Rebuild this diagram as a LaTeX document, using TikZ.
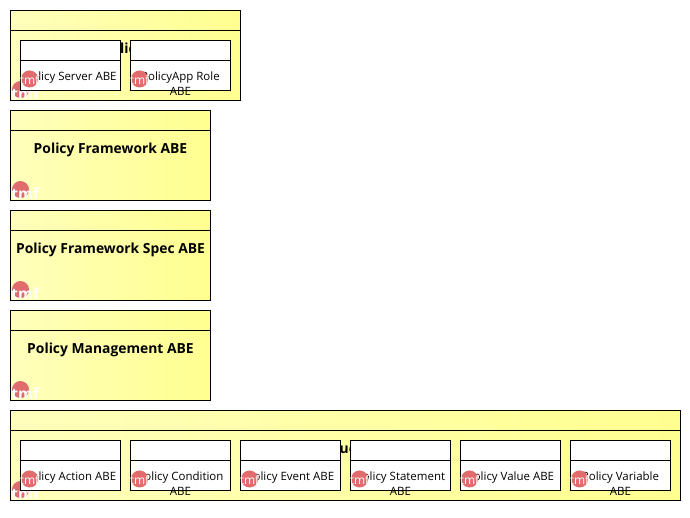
\documentclass[tikz,border=0pt]{standalone}
\usepackage{fontspec}
\setmainfont{Open Sans}
\usetikzlibrary{positioning}
\definecolor{abeleft}{HTML}{FFFFBC}
\definecolor{aberight}{HTML}{FFFF90}
\definecolor{tmfred}{HTML}{E06C6E}
\begin{document}
\begin{tikzpicture}[
    x=0.75pt,
    y=-0.75pt,
    line width=0.75pt,
    node distance=7.5pt,
    abe/.style={
		rectangle,
		draw=black,
		outer sep=0pt,
		minimum height=67.5pt,
		anchor=north west,
		left color=abeleft,
		right color=aberight
	},
	abehead/.style={
		rectangle,
		draw=black,
		outer sep=0pt,
		minimum height=15pt
	},
	abetitle/.style={
		font=\bfseries\fontsize{10.4}{12}\selectfont,
		inner sep=0pt
	},
	part/.style={
		rectangle,
		draw=black,
		fill=white,
		outer sep=0pt,
		minimum width=75pt,
		minimum height=22.5pt
	},
	parthead/.style={
		rectangle,
		draw=black,
		fill=white,
		outer sep=0pt,
		minimum width=75pt,
		minimum height=15pt
	},
	parttext/.style={
		font=\fontsize{8.6}{11.25}\selectfont,
		align=center,
		anchor=north,
		inner sep=0pt,
		yshift=-8.3pt
	},
	tmfbig/.style={
		circle,
		fill=tmfred,
		inner sep=0pt,
		minimum size=12.8pt,
		xshift=7.5pt,
		yshift=8.2pt,
		label={[text=white,font=\bfseries\fontsize{11.5}{11.5}\selectfont,inner sep=0pt,xshift=3.6pt,yshift=-3pt]center:tmf}
	},
	tmfsmall/.style={
		circle,
		fill=tmfred,
		inner sep=0pt,
		minimum size=12.8pt,
		xshift=6.8pt,
		yshift=-2.6pt,
		label={[text=white,font=\fontsize{9}{9}\selectfont,inner sep=0pt,yshift=-1pt]center:tmf}
	}
  ]
    % page size
  \useasboundingbox (0,0) rectangle (690,518);

    % the application box and its two parts
  \node [abe, minimum width=172.5pt] (application) at (10.5,10.5) {};
  \node [abehead, minimum width=172.5pt, below=0pt of application.north, anchor=north] (applicationhead) {};
  \node [abetitle, below=0pt of application.north, yshift=-23.7pt] (applicationtitle) {Policy Application ABE};
  \node [tmfbig] (applicationtmf) at (application.south west) {};

  \node [parthead, below right=22.5pt and 7.5pt of application.north west, anchor=north west] (serverhead) {};
  \node [part, below=0pt of serverhead] (server) {};
  \node [parttext] (servertext) at (server.north) {Policy Server ABE};
  \node [tmfsmall] (servertmf) at (server.west) {};

  \node [parthead, right=7.5pt of serverhead] (rolehead) {};
  \node [part, below=0pt of rolehead] (role) {};
  \node [parttext] (roletext) at (role.north) {PolicyApp Role\\ABE};
  \node [tmfsmall] (roletmf) at (role.west) {};

    % the three plain boxes
  \node [abe, minimum width=150pt, below=7.5pt of application.south west, anchor=north west] (framework) {};
  \node [abehead, minimum width=150pt, below=0pt of framework.north, anchor=north] (frameworkhead) {};
  \node [abetitle, below=0pt of framework.north, yshift=-23.7pt] (frameworktitle) {Policy Framework ABE};
  \node [tmfbig] (frameworktmf) at (framework.south west) {};

  \node [abe, minimum width=150pt, below=7.5pt of framework.south west, anchor=north west] (spec) {};
  \node [abehead, minimum width=150pt, below=0pt of spec.north, anchor=north] (spechead) {};
  \node [abetitle, below=0pt of spec.north, yshift=-23.7pt] (spectitle) {Policy Framework Spec ABE};
  \node [tmfbig] (spectmf) at (spec.south west) {};

  \node [abe, minimum width=150pt, below=7.5pt of spec.south west, anchor=north west] (management) {};
  \node [abehead, minimum width=150pt, below=0pt of management.north, anchor=north] (managementhead) {};
  \node [abetitle, below=0pt of management.north, yshift=-23.7pt] (managementtitle) {Policy Management ABE};
  \node [tmfbig] (managementtmf) at (management.south west) {};

    % the structure box and its six parts
  \node [abe, minimum width=502.5pt, below=7.5pt of management.south west, anchor=north west] (structure) {};
  \node [abehead, minimum width=502.5pt, below=0pt of structure.north, anchor=north] (structurehead) {};
  \node [abetitle, below=0pt of structure.north, yshift=-23.7pt] (structuretitle) {Policy Structure ABE};
  \node [tmfbig] (structuretmf) at (structure.south west) {};

  \node [parthead, below right=22.5pt and 7.5pt of structure.north west, anchor=north west] (actionhead) {};
  \node [part, below=0pt of actionhead] (action) {};
  \node [parttext] (actiontext) at (action.north) {Policy Action ABE};
  \node [tmfsmall] (actiontmf) at (action.west) {};

  \node [parthead, right=7.5pt of actionhead] (conditionhead) {};
  \node [part, below=0pt of conditionhead] (condition) {};
  \node [parttext] (conditiontext) at (condition.north) {Policy Condition\\ABE};
  \node [tmfsmall] (conditiontmf) at (condition.west) {};

  \node [parthead, right=7.5pt of conditionhead] (eventhead) {};
  \node [part, below=0pt of eventhead] (event) {};
  \node [parttext] (eventtext) at (event.north) {Policy Event ABE};
  \node [tmfsmall] (eventtmf) at (event.west) {};

  \node [parthead, right=7.5pt of eventhead] (statementhead) {};
  \node [part, below=0pt of statementhead] (statement) {};
  \node [parttext] (statementtext) at (statement.north) {Policy Statement\\ABE};
  \node [tmfsmall] (statementtmf) at (statement.west) {};

  \node [parthead, right=7.5pt of statementhead] (valuehead) {};
  \node [part, below=0pt of valuehead] (value) {};
  \node [parttext] (valuetext) at (value.north) {Policy Value ABE};
  \node [tmfsmall] (valuetmf) at (value.west) {};

  \node [parthead, right=7.5pt of valuehead] (variablehead) {};
  \node [part, below=0pt of variablehead] (variable) {};
  \node [parttext] (variabletext) at (variable.north) {Policy Variable\\ABE};
  \node [tmfsmall] (variabletmf) at (variable.west) {};

\end{tikzpicture}
\end{document}
